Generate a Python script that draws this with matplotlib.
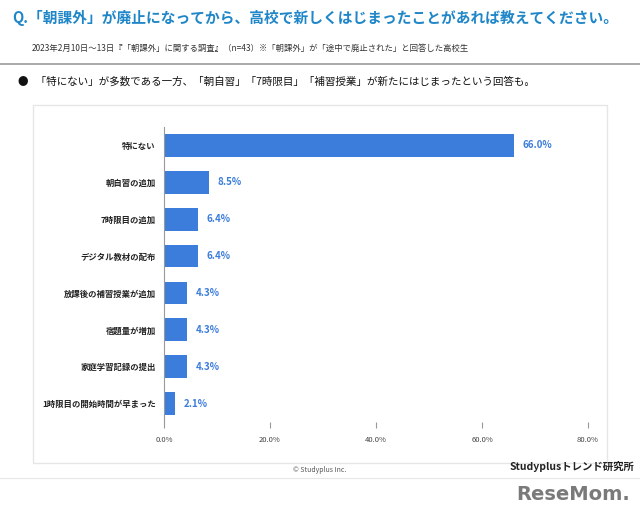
import matplotlib
matplotlib.use("Agg")
import matplotlib.pyplot as plt
from matplotlib.patches import Rectangle

plt.rcParams["font.family"] = ["Noto Sans CJK JP"]

categories = ["特にない", "朝自習の追加", "7時限目の追加", "デジタル教材の配布",
              "放課後の補習授業が追加", "宿題量が増加", "家庭学習記録の提出", "1時限目の開始時間が早まった"]
values = [66.0, 8.5, 6.4, 6.4, 4.3, 4.3, 4.3, 2.1]
xticks = [0, 20, 40, 60, 80]

W, H = 640, 514
fig = plt.figure(figsize=(6.4, 5.14), dpi=100)
fig.patch.set_facecolor("white")

def fx(x): return x / W
def fy(y): return 1 - y / H

fig.text(fx(12), fy(18), "Q.「朝課外」が廃止になってから、高校で新しくはじまったことがあれば教えてください。",
         color="#1f86c8", fontsize=10.6, fontweight="bold", va="center")
fig.text(fx(32), fy(48), "2023年2月10日～13日『「朝課外」に関する調査』（n=43）※「朝課外」が「途中で廃止された」と回答した高校生",
         color="#333333", fontsize=6.0, va="center")
fig.add_artist(plt.Line2D([0, 1], [fy(64), fy(64)], color="#999999", lw=1.2))
fig.text(fx(18), fy(82), "●   「特にない」が多数である一方、「朝自習」「7時限目」「補習授業」が新たにはじまったという回答も。",
         color="#111111", fontsize=7.6, va="center")
fig.add_artist(Rectangle((fx(33), fy(463)), fx(607 - 33), (463 - 105) / H, fill=False,
                         edgecolor="#e6e6e6", lw=1))
fig.add_artist(plt.Line2D([0, 1], [fy(478), fy(478)], color="#e6e6e6", lw=0.8))
fig.text(fx(320), fy(470), "© Studyplus Inc.", color="#555555", fontsize=5, ha="center", va="center")
fig.text(fx(634), fy(467), "Studyplusトレンド研究所", color="#222222", fontsize=7.5,
         fontweight="bold", ha="right", va="center")
fig.text(fx(630), fy(495), "ReseMom.", color="#7a7a7a", fontsize=14, fontweight="bold",
         ha="right", va="center", family="DejaVu Sans")

ax = fig.add_axes([fx(164), fy(422), fx(588 - 164), (422 - 127) / H])
y = list(range(len(categories)))
ax.barh(y, values, height=0.62, color="#3c7ddb")
ax.set_ylim(len(categories) - 0.5, -0.5)
ax.set_xlim(0, 80)
ax.set_yticks(y)
ax.set_yticklabels(categories, fontsize=6, fontweight="bold", color="#222222")
ax.set_xticks(xticks)
ax.set_xticklabels([f"{t:.1f}%" for t in xticks], fontsize=5.5, color="#444444")
ax.tick_params(axis="y", length=0, pad=6)
ax.tick_params(axis="x", length=4, color="#999999", pad=6)
for s in ["top", "right", "bottom"]:
    ax.spines[s].set_visible(False)
ax.spines["left"].set_color("#999999")
for yi, v in zip(y, values):
    ax.text(v + 1.6, yi, f"{v:.1f}%", va="center", fontsize=7, fontweight="bold", color="#3c7ddb")

fig.savefig("out.png", dpi=100)
